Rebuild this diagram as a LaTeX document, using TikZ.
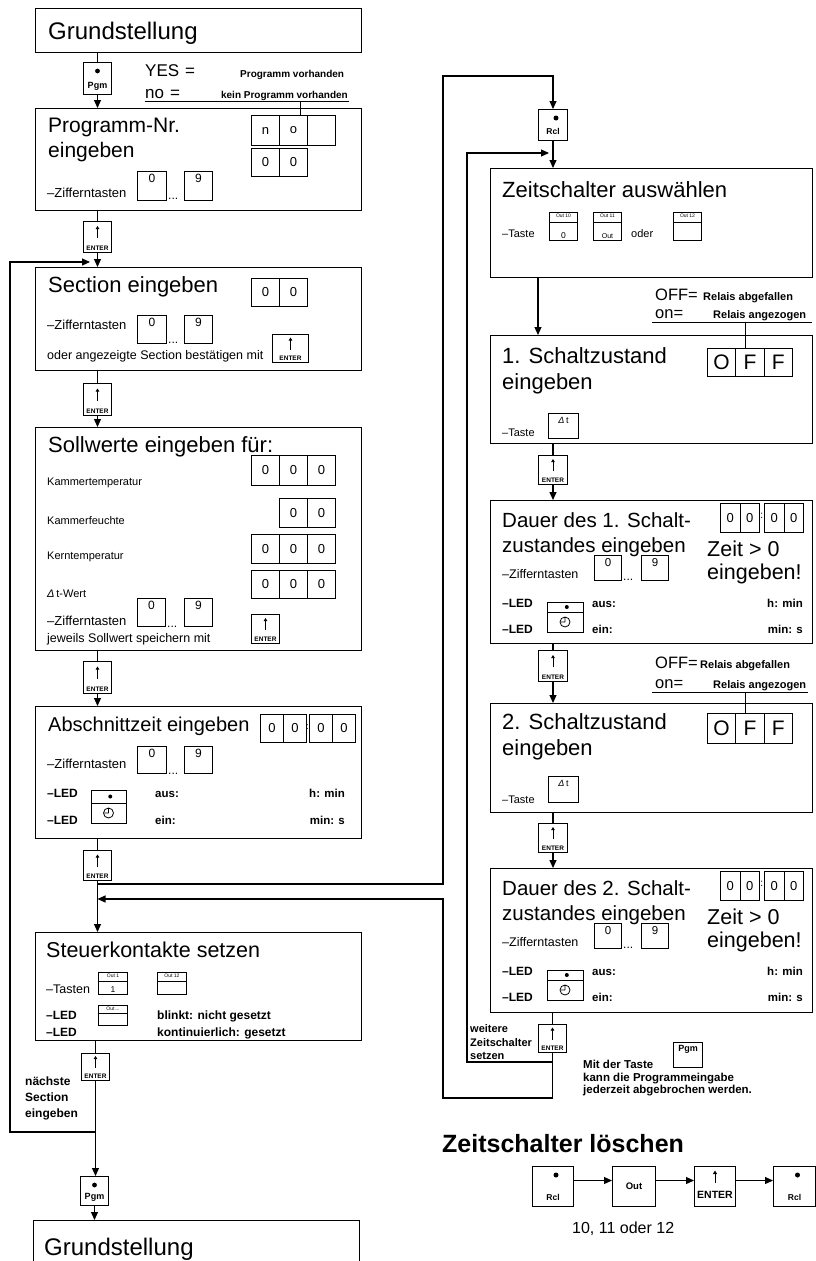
\documentclass[tikz,border=0pt]{standalone}
\usepackage{fontspec}
\setmainfont{Liberation Sans}
\usetikzlibrary{arrows.meta}
\newcommand\fs[1]{\fontsize{#1}{#1}\selectfont}
\newcommand\mkbox[5]{\node[boxs,minimum width=#4,minimum height=#5] (#1) at (#2,#3) {};}
\newcommand\mkcell[6]{\node[cellb,minimum width=#4,minimum height=#5] (#1) at (#2,#3) {#6};}
\newcommand\mknum[7]{%
 \node[keyb,minimum width=#4,minimum height=#5] (#1) at (#2,#3) {};
 \node[anchor=north,inner sep=0pt,font=#7] (#1l) at ([yshift=-3pt]#1.north) {#6};}
\newcommand\mkpgm[5]{%
 \node[keyb,minimum width=#4,minimum height=#5] (#1) at (#2,#3) {};
 \fill ([yshift=-9pt]#1.north) circle (2.4pt);
 \node[anchor=south,inner sep=0pt,font=\fs{9}\bfseries] (#1l) at ([yshift=4pt]#1.south) {Pgm};}
\newcommand\mkenter[5]{%
 \node[keyb,minimum width=#4,minimum height=#5] (#1) at (#2,#3) {};
 \draw[line width=0.8pt,-{Triangle[length=3pt,width=3.5pt]}] ([yshift=-1pt]#1.center) -- ([yshift=11pt]#1.center);
 \node[anchor=south,inner sep=0pt,font=\fs{6.5}\bfseries] (#1l) at ([yshift=2.5pt]#1.south) {ENTER};}
\newcommand\mkrcl[5]{%
 \node[keyb,minimum width=#4,minimum height=#5] (#1) at (#2,#3) {};
 \fill ([xshift=3pt,yshift=-9pt]#1.north) circle (2.5pt);
 \node[anchor=south,inner sep=0pt,font=\fs{8.5}\bfseries] (#1l) at ([yshift=6pt]#1.south) {Rcl};}
\newcommand\mkout[8]{%
 \node[keyb,minimum width=#4,minimum height=#5] (#1) at (#2,#3) {};
 \draw[line width=0.7pt] ([yshift=-#6pt]#1.north west) -- ([yshift=-#6pt]#1.north east);
 \node[anchor=north,inner sep=0pt,font=\fs{5}] (#1t) at ([yshift=-2pt]#1.north) {#7};
 \node[anchor=south,inner sep=0pt,font=\fs{8.5}] (#1b) at ([yshift=2.5pt]#1.south) {#8};}
\newcommand\mkled[6]{%
 \node[keyb,minimum width=#4,minimum height=#5+#6] (#1) at (#2,#3) {};
 \draw[line width=0.8pt] ([yshift=-#5pt]#1.north west) -- ([yshift=-#5pt]#1.north east);
 \fill (#2+#4*0.55,#3+#5/2) circle (2pt);
 \draw[line width=0.8pt] (#2+#4/2,#3+#5+#6/2) circle (5pt) (#2+#4/2,#3+#5+#6/2) -- ++(0,-5) (#2+#4/2,#3+#5+#6/2) -- ++(-4,0);}
\newcommand\mkdt[5]{%
 \node[keyb,minimum width=#4,minimum height=#5] (#1) at (#2,#3) {};
 \node[anchor=north,inner sep=0pt,font=\fs{9}] (#1l) at ([yshift=-4pt]#1.north) {\textit{Δ}\,t};}
\begin{document}
\begin{tikzpicture}[x=1pt,y=-1pt,
  boxs/.style={draw,line width=1.3pt,anchor=north west,inner sep=0pt},
  keyb/.style={draw,line width=1pt,anchor=north west,inner sep=0pt},
  cellb/.style={draw,line width=1pt,anchor=north west,inner sep=0pt,font=\fs{13}},
  conn/.style={line width=1.1pt},
  arr/.style={line width=1.1pt,-{Triangle[length=8pt,width=7pt]}},
  ttl/.style={anchor=base west,inner sep=0pt},
  txt/.style={anchor=base west,inner sep=0pt},
  txte/.style={anchor=base east,inner sep=0pt},
  thin/.style={line width=0.9pt}]
\useasboundingbox (0,0) rectangle (816,1261);
\fill[white] (0,0) rectangle (816,1261);
% ================= LEFT COLUMN =================
\mkbox{b1}{35}{8}{326}{44}
\node[ttl,font=\fs{24}] (t1) at (48,39) {Grundstellung};
\mkpgm{k1}{83}{62}{28}{32}
\draw[conn] (k1.north |- b1.south) -- (k1.north);
\node[txt,font=\fs{17}] (yes) at (145,76) {YES\hspace{6pt}=};
\node[txt,font=\fs{10}\bfseries] (yesd) at (240,77) {Programm vorhanden};
\node[txt,font=\fs{17}] (no) at (145,98) {no\hspace{6pt}=};
\node[txte,font=\fs{10}\bfseries] (nod) at (348,98) {kein Programm vorhanden};
\coordinate (ul1) at (145,101); \coordinate (ul2) at (349,101); \coordinate (tk1) at (300,101);
\draw[thin] (ul1) -- (ul2);
\mkbox{b2}{35}{108}{326}{102}
\draw[arr] (k1.south) -- (k1.south |- b2.north);
\node[ttl,font=\fs{21}] (t2a) at (48,132) {Programm-Nr.};
\node[ttl,font=\fs{21}] (t2b) at (48,157) {eingeben};
\mkcell{c11}{251}{115}{28}{30}{n}
\mkcell{c12}{279}{115}{28}{30}{o}
\mkcell{c13}{307}{115}{28}{30}{}
\mkcell{c21}{251}{148}{28}{28}{0}
\mkcell{c22}{279}{148}{28}{28}{0}
\draw[thin] (tk1) -- (tk1 |- c12.north);
\node[txt,font=\fs{13}] (zt1) at (47,197) {–Zifferntasten};
\mknum{z10}{137}{171}{29}{29}{0}{\fs{12}}
\node[txt,font=\fs{12}] (zd1) at (168,199) {...};
\mknum{z19}{184}{171}{28}{29}{9}{\fs{12}}
\mkenter{k2}{83}{221}{28}{31}
\draw[conn] (k2.north |- b2.south) -- (k2.north);
\mkbox{b3}{35}{267}{326}{103}
\draw[arr] (k2.south) -- (k2.south |- b3.north);
\node[ttl,font=\fs{22}] (t3) at (48,292) {Section eingeben};
\mkcell{c31}{251}{278}{28}{28}{0}
\mkcell{c32}{279}{278}{28}{28}{0}
\node[txt,font=\fs{13}] (zt2) at (47,329) {–Zifferntasten};
\mknum{z20}{137}{315}{29}{28}{0}{\fs{12}}
\node[txt,font=\fs{12}] (zd2) at (168,343) {...};
\mknum{z29}{184}{315}{28}{28}{9}{\fs{12}}
\node[txt,font=\fs{12.5}] (sb) at (47,359) {oder angezeigte Section bestätigen mit};
\mkenter{e3}{272}{334}{36}{28}
\mkenter{k3}{83}{383}{28}{32}
\draw[conn] (k3.north |- b3.south) -- (k3.north);
\mkbox{b4}{35}{427}{326}{223}
\draw[arr] (k3.south) -- (k3.south |- b4.north);
\node[ttl,font=\fs{22}] (t4) at (48,452) {Sollwerte eingeben für:};
\mkcell{c41}{251}{455}{28}{30}{0}
\mkcell{c42}{279}{455}{28}{30}{0}
\mkcell{c43}{307}{455}{28}{30}{0}
\node[txt,font=\fs{11}] (s1) at (47,485) {Kammertemperatur};
\mkcell{c51}{279}{498}{28}{29}{0}
\mkcell{c52}{307}{498}{28}{29}{0}
\node[txt,font=\fs{11}] (s2) at (47,524) {Kammerfeuchte};
\mkcell{c61}{251}{534}{28}{29}{0}
\mkcell{c62}{279}{534}{28}{29}{0}
\mkcell{c63}{307}{534}{28}{29}{0}
\node[txt,font=\fs{11}] (s3) at (47,559) {Kerntemperatur};
\mkcell{c71}{251}{570}{28}{28}{0}
\mkcell{c72}{279}{570}{28}{28}{0}
\mkcell{c73}{307}{570}{28}{28}{0}
\node[txt,font=\fs{11}] (s4) at (47,597) {\textit{Δ}\,t-Wert};
\node[txt,font=\fs{13}] (zt3) at (47,625) {–Zifferntasten};
\mknum{z30}{137}{598}{28}{28}{0}{\fs{12}}
\node[txt,font=\fs{12}] (zd3) at (167,627) {...};
\mknum{z39}{184}{598}{28}{28}{9}{\fs{12}}
\node[txt,font=\fs{12.5}] (s5) at (47,642) {jeweils Sollwert speichern mit};
\mkenter{e4}{251}{614}{28}{29}
\mkenter{k4}{83}{661}{28}{32}
\draw[conn] (k4.north |- b4.south) -- (k4.north);
\mkbox{b5}{35}{706}{326}{132}
\draw[arr] (k4.south) -- (k4.south |- b5.north);
\node[ttl,font=\fs{20}] (t5) at (48,731) {Abschnittzeit eingeben};
\mkcell{c81}{260}{714}{23}{28}{0}
\mkcell{c82}{283}{714}{23}{28}{0}
\mkcell{c83}{309}{714}{23}{28}{0}
\mkcell{c84}{332}{714}{23}{28}{0}
\node[inner sep=0pt,font=\fs{9}] (col1) at (307.5,727) {:};
\node[txt,font=\fs{13}] (zt4) at (47,768) {–Zifferntasten};
\mknum{z40}{137}{746}{29}{27}{0}{\fs{12}}
\node[txt,font=\fs{12}] (zd4) at (168,774) {...};
\mknum{z49}{184}{746}{28}{27}{9}{\fs{12}}
\node[txt,font=\fs{12}\bfseries] (l1a) at (47,797) {–LED};
\mkled{led1}{91}{790}{35}{13}{20}
\node[txt,font=\fs{11.5}\bfseries] (l1b) at (155,797) {aus:};
\node[txte,font=\fs{11.5}\bfseries] (l1c) at (345,797) {h: min};
\node[txt,font=\fs{12}\bfseries] (l1d) at (47,824) {–LED};
\node[txt,font=\fs{11.5}\bfseries] (l1e) at (155,824) {ein:};
\node[txte,font=\fs{11.5}\bfseries] (l1f) at (345,824) {min: s};
\mkenter{k5}{83}{850}{28}{30}
\draw[conn] (k5.north |- b5.south) -- (k5.north);
\mkbox{b6}{35}{932}{326}{108}
\draw[arr] (k5.south) -- (k5.south |- b6.north);
\node[ttl,font=\fs{21.5}] (t6) at (46,957) {Steuerkontakte setzen};
\node[txt,font=\fs{12.5}] (ta) at (46,993) {–Tasten};
\mkout{o1}{98}{972}{29}{22}{9}{Out 1}{1}
\mkout{o2}{157}{972}{29}{22}{9}{Out 12}{}
\node[txt,font=\fs{12}\bfseries] (l3a) at (46,1019) {–LED};
\mkout{o3}{98}{1005}{29}{20}{8}{Out\,...}{}
\node[txt,font=\fs{12}\bfseries] (l3b) at (157,1019) {blinkt: nicht gesetzt};
\node[txt,font=\fs{12}\bfseries] (l3c) at (46,1036) {–LED};
\node[txt,font=\fs{12}\bfseries] (l3d) at (157,1036) {kontinuierlich: gesetzt};
\mkenter{k6}{81}{1053}{28}{27}
\draw[conn] (k6.north |- b6.south) -- (k6.north);
\mkpgm{k7}{80}{1176}{28}{29}
\draw[arr] (k6.south) -- (k6.south |- k7.north);
\mkbox{b7}{33}{1220}{326}{70}
\draw[arr] (k7.south) -- (k7.south |- b7.north);
\node[ttl,font=\fs{24}] (t7) at (44,1255) {Grundstellung};
% loop back to Section
\coordinate (ly1) at (0,1132);
\coordinate (lp2) at (10,1132);
\coordinate (lp3) at (10,262);
\coordinate (lp4) at (90,262);
\draw[arr] (k6.south |- ly1) -- (lp2) -- (lp3) -- (lp4);
\node[txt,font=\fs{12}\bfseries] (ns1) at (25,1085) {nächste};
\node[txt,font=\fs{12}\bfseries] (ns2) at (25,1101) {Section};
\node[txt,font=\fs{12}\bfseries] (ns3) at (25,1117) {eingeben};
% ================= RIGHT COLUMN =================
\mkrcl{r0}{538}{109}{29}{31}
\coordinate (ty) at (0,884); \coordinate (tp2) at (443,884); \coordinate (tp3) at (443,76);
\draw[arr] (k5.south |- ty) -- (tp2) -- (tp3) -- (r0.north |- tp3) -- (r0.north);
\mkbox{R1}{490}{168}{322}{109}
\draw[arr] (r0.south) -- (r0.south |- R1.north);
\node[ttl,font=\fs{22}] (t8) at (502,197) {Zeitschalter auswählen};
\node[txt,font=\fs{11}] (tz1) at (502,237) {–Taste};
\mkout{o10}{549}{212}{28}{28}{10}{Out 10}{0}
\mkout{o11}{593}{212}{28}{28}{10}{Out 11}{\fs{7}Out}
\node[txt,font=\fs{11}] (od) at (631,237) {oder};
\mkout{o12}{673}{212}{28}{28}{10}{Out 12}{}
% legend 1
\node[txt,font=\fs{16.5}] (off1) at (655,300) {OFF=};
\node[txt,font=\fs{11}\bfseries] (off1d) at (703,300) {Relais abgefallen};
\node[txt,font=\fs{16.5}] (on1) at (655,318) {on=};
\node[txt,font=\fs{11}\bfseries] (on1d) at (713,318) {Relais angezogen};
\coordinate (u1a) at (652,322); \coordinate (u1b) at (812,322); \coordinate (tk2) at (745,322);
\draw[thin] (u1a) -- (u1b);
\mkbox{R2}{490}{335}{322}{108}
\draw[arr] ([xshift=48pt]R1.south west) -- ([xshift=48pt]R2.north west);
\node[ttl,font=\fs{22}] (t9a) at (502,363) {1. Schaltzustand};
\node[ttl,font=\fs{22}] (t9b) at (502,389) {eingeben};
\mkcell{f11}{707}{348}{28.3}{28}{\fs{21}O}
\mkcell{f12}{735.3}{348}{28.3}{28}{\fs{21}F}
\mkcell{f13}{763.6}{348}{28.3}{28}{\fs{21}F}
\draw[thin] (tk2) -- (tk2 |- f12.north);
\node[txt,font=\fs{11}] (tz2) at (502,436) {–Taste};
\mkdt{dt1}{548}{413}{30}{25}
\mkenter{r2k}{538}{455}{29}{29}
\draw[conn] (r2k.north |- R2.south) -- (r2k.north);
\mkbox{R3}{490}{500}{322}{143}
\draw[arr] (r2k.south) -- (r2k.south |- R3.north);
\node[ttl,font=\fs{20.5}] (t10a) at (502,527) {Dauer des 1. Schalt-};
\node[ttl,font=\fs{20.5}] (t10b) at (502,552) {zustandes eingeben};
\mkcell{g11}{720}{503}{19.5}{29}{0}
\mkcell{g12}{739.5}{503}{19.5}{29}{0}
\mkcell{g13}{764}{503}{19.5}{29}{0}
\mkcell{g14}{783.5}{503}{19.5}{29}{0}
\node[inner sep=0pt,font=\fs{10}] (col2) at (761.7,516) {:};
\node[ttl,font=\fs{21.5}] (zg1) at (707,556) {Zeit > 0};
\node[ttl,font=\fs{21.5}] (zg2) at (707,579) {eingeben!};
\node[txt,font=\fs{12.5}] (zt5) at (502,578) {–Zifferntasten};
\mknum{z50}{594}{555}{27}{25}{0}{\fs{11.5}}
\node[txt,font=\fs{12}] (zd5) at (623,580) {...};
\mknum{z59}{641}{555}{27}{25}{9}{\fs{11.5}}
\node[txt,font=\fs{12}\bfseries] (l5a) at (502,607) {–LED};
\mkled{led2}{547}{602}{36}{10}{20}
\node[txt,font=\fs{11.5}\bfseries] (l5b) at (592,607) {aus:};
\node[txte,font=\fs{11.5}\bfseries] (l5c) at (803,607) {h: min};
\node[txt,font=\fs{12}\bfseries] (l5d) at (502,633) {–LED};
\node[txt,font=\fs{11.5}\bfseries] (l5e) at (592,633) {ein:};
\node[txte,font=\fs{11.5}\bfseries] (l5f) at (803,633) {min: s};
\mkenter{r3k}{538}{650}{29}{31}
\draw[conn] (r3k.north |- R3.south) -- (r3k.north);
% legend 2
\node[txt,font=\fs{16.5}] (off2) at (655,668) {OFF=};
\node[txt,font=\fs{11}\bfseries] (off2d) at (700,668) {Relais abgefallen};
\node[txt,font=\fs{16.5}] (on2) at (655,688) {on=};
\node[txt,font=\fs{11}\bfseries] (on2d) at (713,688) {Relais angezogen};
\coordinate (u2a) at (652,692); \coordinate (u2b) at (808,692); \coordinate (tk3) at (745,692);
\draw[thin] (u2a) -- (u2b);
\mkbox{R4}{490}{703}{322}{109}
\draw[arr] (r3k.south) -- (r3k.south |- R4.north);
\node[ttl,font=\fs{22}] (t11a) at (502,729) {2. Schaltzustand};
\node[ttl,font=\fs{22}] (t11b) at (502,755) {eingeben};
\mkcell{f21}{707}{713}{28.3}{30}{\fs{21}O}
\mkcell{f22}{735.3}{713}{28.3}{30}{\fs{21}F}
\mkcell{f23}{763.6}{713}{28.3}{30}{\fs{21}F}
\draw[thin] (tk3) -- (tk3 |- f22.north);
\node[txt,font=\fs{11}] (tz3) at (502,803) {–Taste};
\mkdt{dt2}{548}{776}{30}{26}
\mkenter{r4k}{538}{823}{29}{29}
\draw[conn] (r4k.north |- R4.south) -- (r4k.north);
\mkbox{R5}{490}{868}{322}{144}
\draw[arr] (r4k.south) -- (r4k.south |- R5.north);
\node[ttl,font=\fs{20.5}] (t12a) at (502,895) {Dauer des 2. Schalt-};
\node[ttl,font=\fs{20.5}] (t12b) at (502,920) {zustandes eingeben};
\mkcell{g21}{720}{871}{19.5}{29}{0}
\mkcell{g22}{739.5}{871}{19.5}{29}{0}
\mkcell{g23}{764}{871}{19.5}{29}{0}
\mkcell{g24}{783.5}{871}{19.5}{29}{0}
\node[inner sep=0pt,font=\fs{10}] (col3) at (761.7,884) {:};
\node[ttl,font=\fs{21.5}] (zg3) at (707,924) {Zeit > 0};
\node[ttl,font=\fs{21.5}] (zg4) at (707,947) {eingeben!};
\node[txt,font=\fs{12.5}] (zt6) at (502,946) {–Zifferntasten};
\mknum{z60}{594}{923}{27}{25}{0}{\fs{11.5}}
\node[txt,font=\fs{12}] (zd6) at (623,948) {...};
\mknum{z69}{641}{923}{27}{25}{9}{\fs{11.5}}
\node[txt,font=\fs{12}\bfseries] (l6a) at (502,975) {–LED};
\mkled{led3}{547}{970}{36}{10}{20}
\node[txt,font=\fs{11.5}\bfseries] (l6b) at (592,975) {aus:};
\node[txte,font=\fs{11.5}\bfseries] (l6c) at (803,975) {h: min};
\node[txt,font=\fs{12}\bfseries] (l6d) at (502,1001) {–LED};
\node[txt,font=\fs{11.5}\bfseries] (l6e) at (592,1001) {ein:};
\node[txte,font=\fs{11.5}\bfseries] (l6f) at (803,1001) {min: s};
\mkenter{r5k}{538}{1024}{28}{28}
\draw[conn] (r5k.north |- R5.south) -- (r5k.north);
% loops from last ENTER
\coordinate (oy) at (0,1098); \coordinate (op2) at (443,1098); \coordinate (op3) at (443,899);
\draw[arr] (r5k.south) -- (r5k.south |- oy) -- (op2) -- (op3) -- (k5.south |- op3);
\coordinate (iy) at (0,1062); \coordinate (ip2) at (467,1062); \coordinate (ip3) at (467,153); \coordinate (ip4) at (549,153);
\draw[arr] (r5k.south |- iy) -- (ip2) -- (ip3) -- (ip4);
\node[txt,font=\fs{11}\bfseries] (wz1) at (470,1032) {weitere};
\node[txt,font=\fs{11}\bfseries] (wz2) at (470,1046) {Zeitschalter};
\node[txt,font=\fs{11}\bfseries] (wz3) at (470,1059) {setzen};
\node[txt,font=\fs{11.5}\bfseries] (mt1) at (583,1068) {Mit der Taste};
\mknum{pg2}{673}{1042}{29}{25}{Pgm}{\fs{9}\bfseries}
\node[txt,font=\fs{11.5}\bfseries] (mt2) at (583,1081) {kann die Programmeingabe};
\node[txt,font=\fs{11.5}\bfseries] (mt3) at (583,1093) {jederzeit abgebrochen werden.};
% Zeitschalter loeschen
\node[ttl,font=\fs{25}\bfseries] (zl) at (442,1152) {Zeitschalter löschen};
\mkrcl{q1}{532}{1166}{41}{40}
\node[keyb,minimum width=43,minimum height=40,font=\fs{9.5}\bfseries] (q2) at (612,1166) {Out};
\node[keyb,minimum width=41,minimum height=40] (q3) at (694,1166) {};
\draw[line width=0.9pt,-{Triangle[length=3.5pt,width=4pt]}] ([yshift=4pt]q3.center) -- ([yshift=16pt]q3.center);
\node[anchor=south,inner sep=0pt,font=\fs{10.5}\bfseries] (q3l) at ([yshift=8pt]q3.south) {ENTER};
\mkrcl{q4}{773}{1166}{42}{40}
\draw[arr] ([yshift=6pt]q1.east) -- ([yshift=6pt]q2.west);
\draw[arr] ([yshift=6pt]q2.east) -- ([yshift=6pt]q3.west);
\draw[arr] ([yshift=6pt]q3.east) -- ([yshift=6pt]q4.west);
\node[txt,font=\fs{16}] (zl2) at (572,1233) {10, 11 oder 12};
\end{tikzpicture}
\end{document}
